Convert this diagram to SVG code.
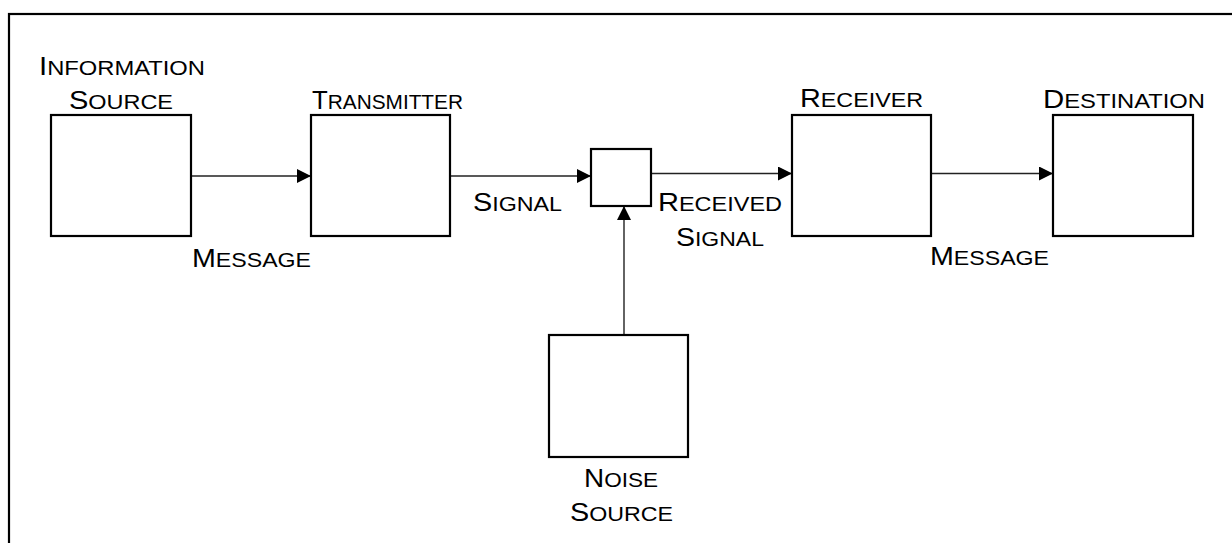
<svg xmlns="http://www.w3.org/2000/svg" width="1232" height="543" viewBox="0 0 1232 543">
<style>
.box{fill:#fff;stroke:#000;stroke-width:2.2}
.frame{fill:none;stroke:#000;stroke-width:2.2}
.conn{stroke:#222;stroke-width:1.4;fill:none}
text{font-family:"Liberation Sans",Arial,sans-serif;fill:#000;font-size:21px}
.b{font-size:26px}
</style>
<defs>
<marker id="ah" viewBox="0 0 14 14" refX="14" refY="7" markerWidth="14" markerHeight="14" markerUnits="userSpaceOnUse" orient="auto">
<path d="M0,0 L14,7 L0,14 Z" fill="#000"/>
</marker>
</defs>
<rect class="frame" x="9" y="14" width="1240" height="550"/>
<g id="connectors">
<line class="conn" x1="191" y1="176" x2="311" y2="176" marker-end="url(#ah)"/>
<line class="conn" x1="450" y1="176" x2="591" y2="176" marker-end="url(#ah)"/>
<line class="conn" x1="651" y1="173.5" x2="792" y2="173.5" marker-end="url(#ah)"/>
<line class="conn" x1="931" y1="173.5" x2="1053" y2="173.5" marker-end="url(#ah)"/>
<line class="conn" x1="624" y1="335" x2="624" y2="206" marker-end="url(#ah)"/>
</g>
<g id="source">
<rect class="box" x="51" y="115" width="140" height="121"/>
<text x="39" y="75" textLength="166" lengthAdjust="spacingAndGlyphs"><tspan class="b">I</tspan>NFORMATION</text>
<text x="69" y="109" textLength="104" lengthAdjust="spacingAndGlyphs"><tspan class="b">S</tspan>OURCE</text>
</g>
<g id="transmitter">
<rect class="box" x="311" y="115" width="139" height="121"/>
<text x="312" y="109" textLength="151" lengthAdjust="spacingAndGlyphs"><tspan class="b">T</tspan>RANSMITTER</text>
</g>
<g id="channel">
<rect class="box" x="591" y="149" width="60" height="57"/>
</g>
<g id="receiver">
<rect class="box" x="792" y="115" width="139" height="121"/>
<text x="800" y="107" textLength="123" lengthAdjust="spacingAndGlyphs"><tspan class="b">R</tspan>ECEIVER</text>
</g>
<g id="destination">
<rect class="box" x="1053" y="115" width="140" height="121"/>
<text x="1043" y="108" textLength="162" lengthAdjust="spacingAndGlyphs"><tspan class="b">D</tspan>ESTINATION</text>
</g>
<g id="noise">
<rect class="box" x="549" y="335" width="139" height="122"/>
<text x="584" y="487" textLength="74" lengthAdjust="spacingAndGlyphs"><tspan class="b">N</tspan>OISE</text>
<text x="570" y="521" textLength="103" lengthAdjust="spacingAndGlyphs"><tspan class="b">S</tspan>OURCE</text>
</g>
<g id="labels">
<text x="192" y="267" textLength="119" lengthAdjust="spacingAndGlyphs"><tspan class="b">M</tspan>ESSAGE</text>
<text x="473" y="211" textLength="89" lengthAdjust="spacingAndGlyphs"><tspan class="b">S</tspan>IGNAL</text>
<text x="658" y="211" textLength="124" lengthAdjust="spacingAndGlyphs"><tspan class="b">R</tspan>ECEIVED</text>
<text x="676" y="246" textLength="88" lengthAdjust="spacingAndGlyphs"><tspan class="b">S</tspan>IGNAL</text>
<text x="930" y="265" textLength="119" lengthAdjust="spacingAndGlyphs"><tspan class="b">M</tspan>ESSAGE</text>
</g>
</svg>
